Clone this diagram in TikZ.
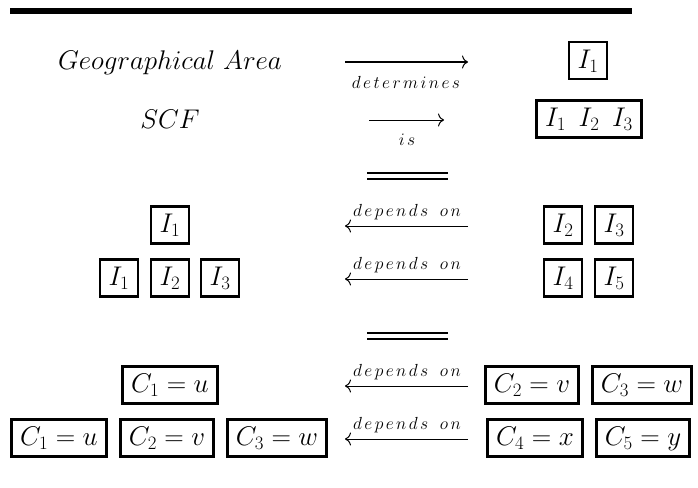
\RequirePackage{fix-cm}
\documentclass[tikz,border=0pt]{standalone}
\usetikzlibrary{arrows.meta}
\newcommand{\lsp}{\mkern2.5mu}
\newcommand{\wsp}{\mkern12mu}
\begin{document}
\begin{tikzpicture}[x=1pt,y=-1pt,
  box/.style={draw,line width=2.8pt,inner xsep=8.5pt,inner ysep=6pt,
    text height=20pt,text depth=5pt,font=\fontsize{27}{32}\selectfont},
  plain/.style={font=\fontsize{27}{32}\selectfont,inner sep=0pt,anchor=base},
  lbl/.style={font=\fontsize{17.5}{20}\selectfont,inner sep=0pt,anchor=base},
  conn/.style={line width=1pt,-{To[length=6pt,width=13pt]}},
  rule/.style={line width=5.5pt},
  dbl/.style={line width=2.4pt}]
\useasboundingbox (0,0) rectangle (698,487);

% top rule
\coordinate (tl) at (10,11);
\coordinate (tr) at (632,11);
\draw[rule] (tl) -- (tr);

% row 1
\node[plain] (ga) at (170,69) {$Geographical\ Area$};
\coordinate (a1s) at (345,62);
\coordinate (a1e) at (468,62);
\draw[conn] (a1s) -- (a1e);
\node[lbl] (l1) at (406,88) {$d\lsp e\lsp t\lsp e\lsp r\lsp m\lsp i\lsp n\lsp e\lsp s$};
\node[box] (r1) at (588,60.5) {$I_1$};

% row 2
\node[plain] (scf) at (170,128) {$SCF$};
\coordinate (a2s) at (369,120);
\coordinate (a2e) at (444,120);
\draw[conn] (a2s) -- (a2e);
\node[lbl] (l2) at (407,145) {$i\lsp s$};
\node[box] (r2) at (589,119) {$I_1\ \,I_2\ \,I_3$};

% double line 1
\coordinate (d1a) at (367,173);
\coordinate (d1b) at (448,173);
\coordinate (d1c) at (367,179);
\coordinate (d1d) at (448,179);
\draw[dbl] (d1a) -- (d1b);
\draw[dbl] (d1c) -- (d1d);

% row 3
\node[box] (b31) at (170,225) {$I_1$};
\coordinate (a3s) at (468,226);
\coordinate (a3e) at (345,226);
\draw[conn] (a3s) -- (a3e);
\node[lbl] (l3) at (407,216) {$d\lsp e\lsp p\lsp e\lsp n\lsp d\lsp s\wsp o\lsp n$};
\node[box] (c32) at (563,225) {$I_2$};
\node[box] (c33) at (614,225) {$I_3$};

% row 4
\node[box] (b41) at (119,278) {$I_1$};
\node[box] (b42) at (170,278) {$I_2$};
\node[box] (b43) at (220,278) {$I_3$};
\coordinate (a4s) at (468,279);
\coordinate (a4e) at (345,279);
\draw[conn] (a4s) -- (a4e);
\node[lbl] (l4) at (407,269) {$d\lsp e\lsp p\lsp e\lsp n\lsp d\lsp s\wsp o\lsp n$};
\node[box] (c44) at (563,278) {$I_4$};
\node[box] (c45) at (614,278) {$I_5$};

% double line 2
\coordinate (d2a) at (367,333);
\coordinate (d2b) at (448,333);
\coordinate (d2c) at (367,339);
\coordinate (d2d) at (448,339);
\draw[dbl] (d2a) -- (d2b);
\draw[dbl] (d2c) -- (d2d);

% row 5
\node[box] (b51) at (170,385) {$C_1=u$};
\coordinate (a5s) at (468,386);
\coordinate (a5e) at (345,386);
\draw[conn] (a5s) -- (a5e);
\node[lbl] (l5) at (407,376) {$d\lsp e\lsp p\lsp e\lsp n\lsp d\lsp s\wsp o\lsp n$};
\node[box] (c52) at (532,385) {$C_2=v$};
\node[box] (c53) at (642,385) {$C_3=w$};

% row 6
\node[box] (b61) at (59,438) {$C_1=u$};
\node[box] (b62) at (167,438) {$C_2=v$};
\node[box] (b63) at (277,438) {$C_3=w$};
\coordinate (a6s) at (468,439);
\coordinate (a6e) at (345,439);
\draw[conn] (a6s) -- (a6e);
\node[lbl] (l6) at (407,429) {$d\lsp e\lsp p\lsp e\lsp n\lsp d\lsp s\wsp o\lsp n$};
\node[box] (c64) at (535,438) {$C_4=x$};
\node[box] (c65) at (643,438) {$C_5=y$};
\end{tikzpicture}
\end{document}
